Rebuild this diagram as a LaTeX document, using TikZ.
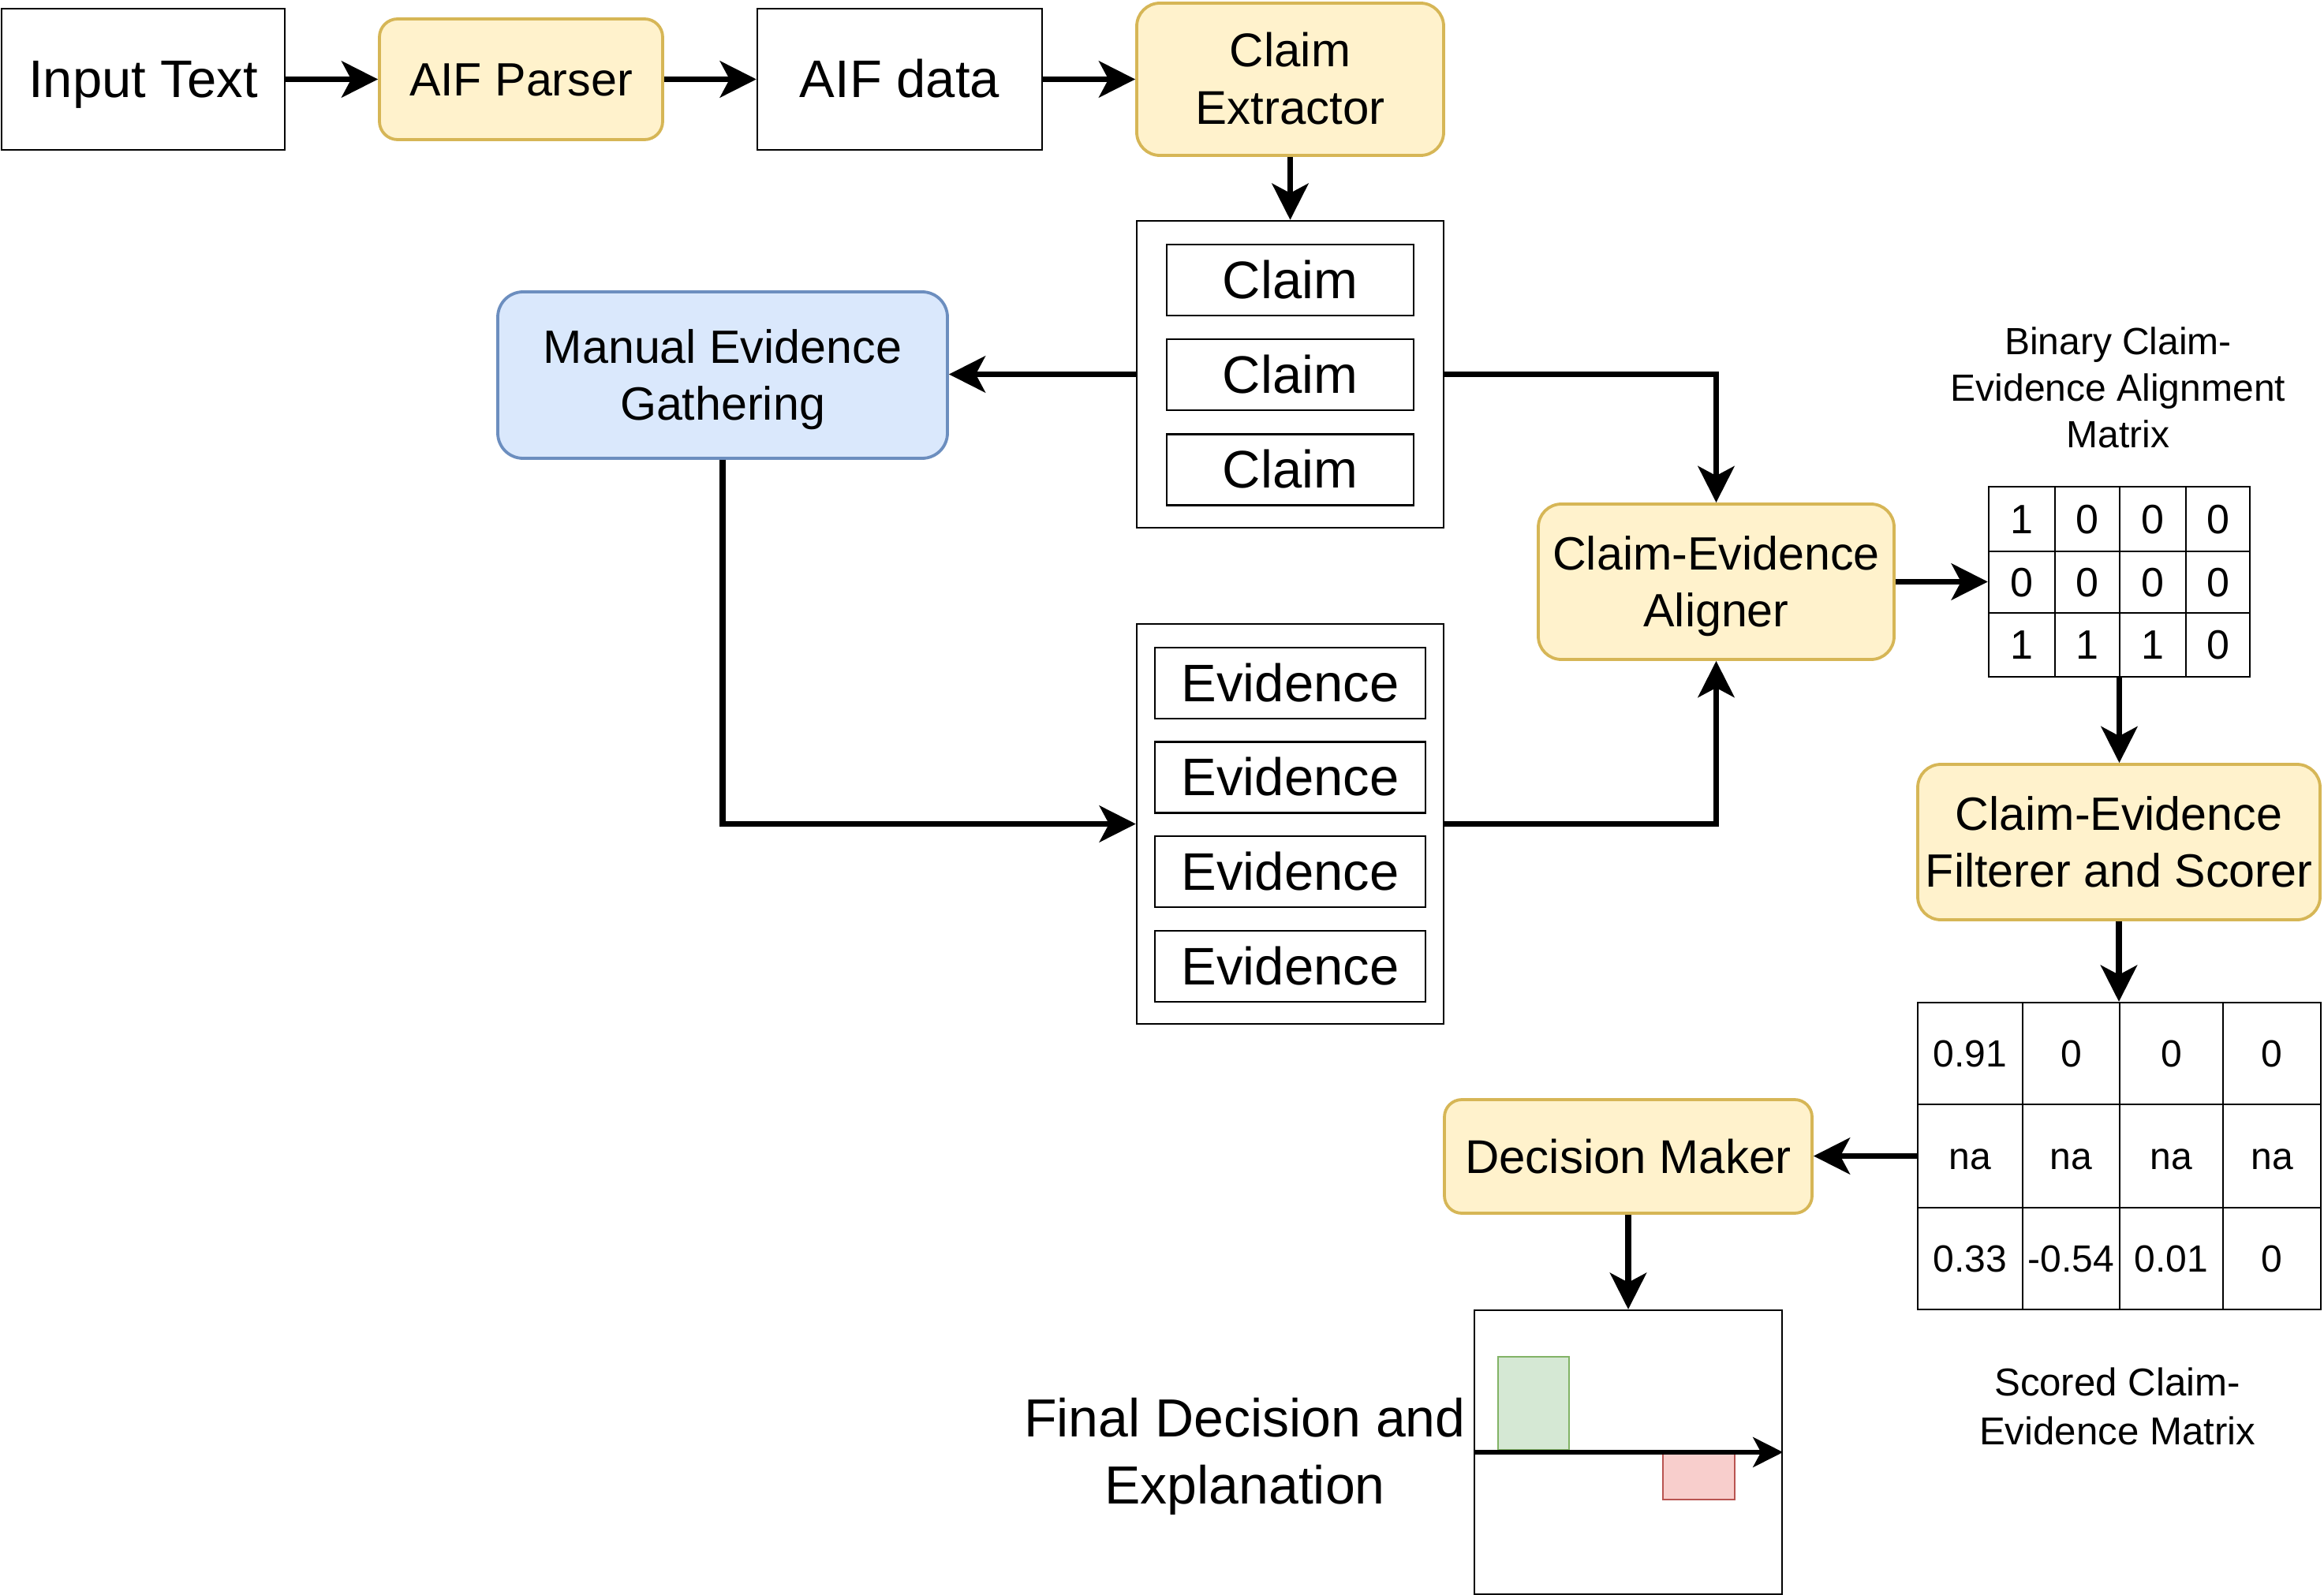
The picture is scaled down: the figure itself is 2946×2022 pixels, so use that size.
\documentclass[tikz,border=0pt]{standalone}
\usepackage{fontspec}
\setmainfont{Liberation Sans}
\usetikzlibrary{arrows.meta}
\definecolor{ylwF}{HTML}{FFF2CC}
\definecolor{ylwD}{HTML}{D6B656}
\definecolor{bluF}{HTML}{DAE8FC}
\definecolor{bluD}{HTML}{6C8EBF}
\definecolor{grnF}{HTML}{D5E8D4}
\definecolor{grnD}{HTML}{82B366}
\definecolor{redF}{HTML}{F8CECC}
\definecolor{redD}{HTML}{B85450}
\newcommand\linestrut{\vrule height .95em depth .25em width 0pt\relax}
\begin{document}
\begin{tikzpicture}[x=0.25pt,y=-0.25pt,
  sz/.style 2 args={minimum width=#1*0.25pt, minimum height=#2*0.25pt},
  txt/.style={execute at begin node=\linestrut, execute at end node=\linestrut},
  plainbox/.style={draw=black, line width=0.6pt, fill=white, inner sep=0pt, align=center, txt},
  procbox/.style={draw=ylwD, fill=ylwF, line width=0.95pt, rounded corners=7.3pt, inner sep=0pt, align=center, txt},
  cell/.style={draw=black, line width=0.6pt, inner sep=0pt, align=center, txt},
  f67/.style={font=\fontsize{16.75pt}{20.1pt}\selectfont},
  f60/.style={font=\fontsize{15pt}{18.25pt}\selectfont},
  f59/.style={font=\fontsize{14.8pt}{18pt}\selectfont},
  f52/.style={font=\fontsize{13pt}{15.6pt}\selectfont},
  f48/.style={font=\fontsize{12pt}{14.75pt}\selectfont},
  f49/.style={font=\fontsize{12.3pt}{15.5pt}\selectfont},
  f68/.style={font=\fontsize{17pt}{20.25pt}\selectfont},
  conn/.style={line width=1.9pt, -{Stealth[length=11.5pt,width=11.5pt,inset=3pt]}},
  axisline/.style={line width=1.5pt, -{Stealth[length=9.5pt,width=9.5pt,inset=2.5pt]}},
  lbl/.style={inner sep=0pt, align=center, txt}
]
\useasboundingbox (0,0) rectangle (2946,2022);

% top row
\node[plainbox, sz={359}{179}, f67] (input) at (181.5,100.5) {Input Text};
\node[procbox, rounded corners=5.75pt, sz={359}{153}, f59] (parser) at (660.5,100.5) {AIF Parser};
\node[plainbox, sz={361}{179}, f67] (aif) at (1140.5,100.5) {AIF data};
\node[procbox, sz={389}{193}, f60] (extract) at (1635.5,100.5) {\linestrut Claim\\Extractor\linestrut};

% claims
\node[plainbox, sz={389}{389}] (claims) at (1635.5,474.5) {};
\node[plainbox, sz={313}{90}, f67] (c1) at (1635.5,355) {Claim};
\node[plainbox, sz={313}{90}, f67] (c2) at (1635.5,475) {Claim};
\node[plainbox, sz={313}{90}, f67] (c3) at (1635.5,595.5) {Claim};

% manual evidence
\node[procbox, draw=bluD, fill=bluF, rounded corners=8pt, sz={570}{211}, f59] (meg) at (916,475.5) {\linestrut Manual Evidence\\Gathering\linestrut};

% evidence
\node[plainbox, sz={389}{507}] (evid) at (1635.5,1044.5) {};
\node[plainbox, sz={343}{90}, f67] (e1) at (1635.5,866) {Evidence};
\node[plainbox, sz={343}{90}, f67] (e2) at (1635.5,985.5) {Evidence};
\node[plainbox, sz={343}{90}, f67] (e3) at (1635.5,1105) {Evidence};
\node[plainbox, sz={343}{90}, f67] (e4) at (1635.5,1225) {Evidence};

% aligner
\node[procbox, sz={451}{197}, f59] (align) at (2175.5,737.5) {\linestrut Claim-Evidence\\Aligner\linestrut};

% binary matrix
\node[lbl, f48] (binlbl) at (2685,492) {\linestrut Binary Claim-\\Evidence Alignment\\Matrix\linestrut};
\node[cell, sz={331}{241}] (binm) at (2686.5,737.5) {};
\node[cell, sz={84}{82}, f52] (b11) at (2563,658) {1};
\node[cell, sz={82}{82}, f52] (b12) at (2646,658) {0};
\node[cell, sz={84}{82}, f52] (b13) at (2729,658) {0};
\node[cell, sz={81}{82}, f52] (b14) at (2811.5,658) {0};
\node[cell, sz={84}{78}, f52] (b21) at (2563,738) {0};
\node[cell, sz={82}{78}, f52] (b22) at (2646,738) {0};
\node[cell, sz={84}{78}, f52] (b23) at (2729,738) {0};
\node[cell, sz={81}{78}, f52] (b24) at (2811.5,738) {0};
\node[cell, sz={84}{81}, f52] (b31) at (2563,817.5) {1};
\node[cell, sz={82}{81}, f52] (b32) at (2646,817.5) {1};
\node[cell, sz={84}{81}, f52] (b33) at (2729,817.5) {1};
\node[cell, sz={81}{81}, f52] (b34) at (2811.5,817.5) {0};

% filterer
\node[procbox, sz={510}{197}, f59] (filt) at (2686,1067.5) {\linestrut Claim-Evidence\\Filterer and Scorer\linestrut};

% scored matrix
\node[cell, sz={511}{389}] (scm) at (2686.5,1465.5) {};
\node[cell, sz={133}{129}, f48] (s11) at (2497.5,1335.5) {0.91};
\node[cell, sz={123}{129}, f48] (s12) at (2625.5,1335.5) {0};
\node[cell, sz={131}{129}, f48] (s13) at (2752.5,1335.5) {0};
\node[cell, sz={124}{129}, f48] (s14) at (2880,1335.5) {0};
\node[cell, sz={133}{131}, f48] (s21) at (2497.5,1465.5) {na};
\node[cell, sz={123}{131}, f48] (s22) at (2625.5,1465.5) {na};
\node[cell, sz={131}{131}, f48] (s23) at (2752.5,1465.5) {na};
\node[cell, sz={124}{131}, f48] (s24) at (2880,1465.5) {na};
\node[cell, sz={133}{129}, f48] (s31) at (2497.5,1595.5) {0.33};
\node[cell, sz={123}{129}, f48] (s32) at (2625.5,1595.5) {-0.54};
\node[cell, sz={131}{129}, f48] (s33) at (2752.5,1595.5) {0.01};
\node[cell, sz={124}{129}, f48] (s34) at (2880,1595.5) {0};
\node[lbl, f49] (sclbl) at (2684,1783) {\linestrut Scored Claim-\\Evidence Matrix\linestrut};

% decision maker
\node[procbox, rounded corners=5.5pt, sz={466}{144}, f60] (dm) at (2064,1466) {Decision Maker};

% chart
\node[plainbox, sz={390}{360}] (chart) at (2064,1841) {};
\draw[draw=grnD, fill=grnF, line width=0.5pt] (1899,1720) rectangle (1989,1838);
\draw[draw=redD, fill=redF, line width=0.5pt] (2108,1842) rectangle (2199,1901);
\draw[axisline] (chart.west) -- (chart.east);
\node[lbl, f68] (final) at (1578,1840) {\linestrut Final Decision and\\Explanation\linestrut};

% connectors
\draw[conn] (input) -- (parser);
\draw[conn] (parser) -- (aif);
\draw[conn] (aif) -- (extract);
\draw[conn] (extract.south) -- (claims.north);
\draw[conn] (claims.west) -- (claims.west -| meg.east);
\draw[conn] (claims.east) -| (align.north);
\draw[conn] (meg.south) |- (evid.west);
\draw[conn] (evid.east) -| (align.south);
\draw[conn] (align.east) -- (align.east -| binm.west);
\draw[conn] (binm.south) -- (binm.south |- filt.north);
\draw[conn] (filt.south) -- (filt.south |- scm.north);
\draw[conn] (scm.west) -- (scm.west -| dm.east);
\draw[conn] (dm.south) -- (chart.north);
\end{tikzpicture}
\end{document}
